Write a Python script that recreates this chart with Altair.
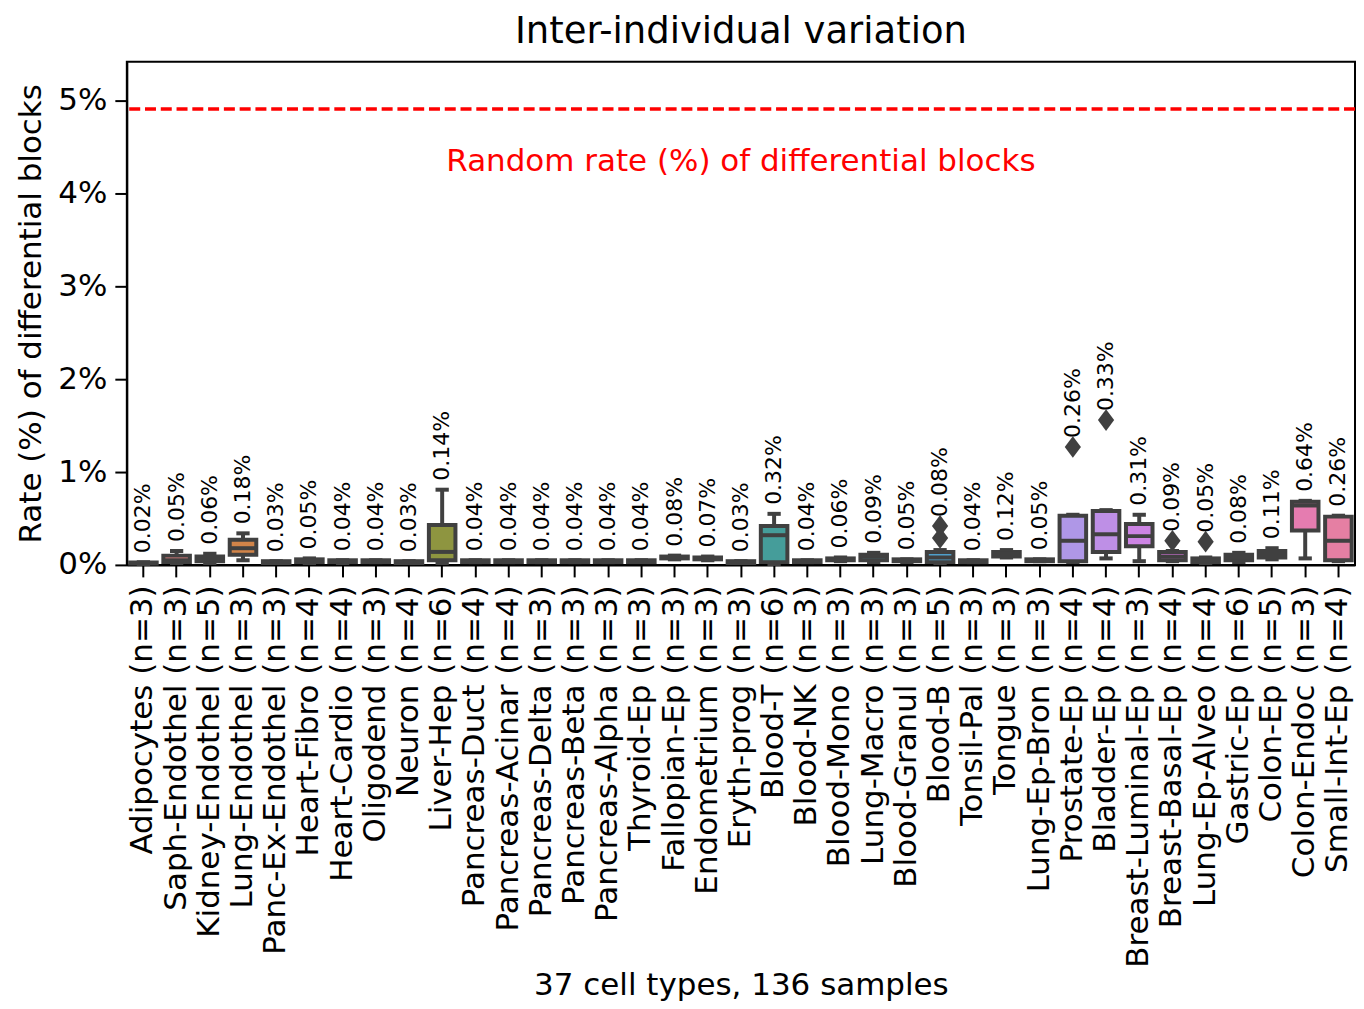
import math
import colorsys
import altair as alt
import pandas as pd

# ---------------- data ----------------
names = ["Adipocytes", "Saph-Endothel", "Kidney-Endothel", "Lung-Endothel", "Panc-Ex-Endothel",
         "Heart-Fibro", "Heart-Cardio", "Oligodend", "Neuron", "Liver-Hep", "Pancreas-Duct",
         "Pancreas-Acinar", "Pancreas-Delta", "Pancreas-Beta", "Pancreas-Alpha", "Thyroid-Ep",
         "Fallopian-Ep", "Endometrium", "Eryth-prog", "Blood-T", "Blood-NK", "Blood-Mono",
         "Lung-Macro", "Blood-Granul", "Blood-B", "Tonsil-Pal", "Tongue", "Lung-Ep-Bron",
         "Prostate-Ep", "Bladder-Ep", "Breast-Luminal-Ep", "Breast-Basal-Ep", "Lung-Ep-Alveo",
         "Gastric-Ep", "Colon-Ep", "Colon-Endoc", "Small-Int-Ep"]
n_samples = [3, 3, 5, 3, 3, 4, 4, 3, 4, 6, 4, 4, 3, 3, 3, 3, 3, 3, 3, 6, 3, 3, 3, 3, 5, 3, 3, 3,
             4, 4, 3, 4, 4, 6, 5, 3, 4]
medians = [0.02, 0.05, 0.06, 0.18, 0.03, 0.05, 0.04, 0.04, 0.03, 0.14, 0.04, 0.04, 0.04, 0.04,
           0.04, 0.04, 0.08, 0.07, 0.03, 0.32, 0.04, 0.06, 0.09, 0.05, 0.08, 0.04, 0.12, 0.05,
           0.26, 0.33, 0.31, 0.09, 0.05, 0.08, 0.11, 0.64, 0.26]
q1 = [0.015, 0.03, 0.04, 0.11, 0.02, 0.03, 0.03, 0.03, 0.02, 0.05, 0.03, 0.03, 0.03, 0.03,
      0.03, 0.03, 0.07, 0.06, 0.02, 0.03, 0.03, 0.05, 0.05, 0.04, 0.03, 0.03, 0.09, 0.04,
      0.04, 0.14, 0.20, 0.05, 0.03, 0.05, 0.08, 0.37, 0.05]
q3 = [0.025, 0.10, 0.09, 0.27, 0.04, 0.06, 0.05, 0.05, 0.04, 0.43, 0.05, 0.05, 0.05, 0.05,
      0.05, 0.05, 0.09, 0.08, 0.04, 0.42, 0.05, 0.07, 0.11, 0.06, 0.14, 0.05, 0.14, 0.06,
      0.53, 0.58, 0.44, 0.14, 0.07, 0.11, 0.15, 0.68, 0.52]
whisker_lo = [0.01, 0.02, 0.02, 0.05, 0.02, 0.02, 0.02, 0.03, 0.02, 0.02, 0.03, 0.03, 0.03, 0.03,
              0.03, 0.03, 0.06, 0.05, 0.02, 0.01, 0.03, 0.04, 0.03, 0.03, 0.02, 0.03, 0.08, 0.04,
              0.03, 0.07, 0.04, 0.04, 0.02, 0.03, 0.06, 0.07, 0.04]
whisker_hi = [0.03, 0.15, 0.12, 0.34, 0.04, 0.07, 0.05, 0.05, 0.04, 0.81, 0.05, 0.05, 0.05, 0.05,
              0.05, 0.05, 0.10, 0.09, 0.04, 0.55, 0.05, 0.08, 0.13, 0.06, 0.16, 0.05, 0.16, 0.06,
              0.54, 0.59, 0.54, 0.15, 0.08, 0.13, 0.18, 0.69, 0.53]
outlier_cat = ["Blood-B", "Blood-B", "Prostate-Ep", "Bladder-Ep", "Breast-Basal-Ep", "Lung-Ep-Alveo"]
outlier_val = [0.42, 0.29, 1.27, 1.56, 0.26, 0.25]
random_rate = 4.91
random_label = "Random rate (%) of differential blocks"
random_label_y = 4.34

labels = [f"{nm} (n={k})" for nm, k in zip(names, n_samples)]


# ---------------- seaborn-like husl palette ----------------
_M = [[3.2406, -1.5372, -0.4986], [-0.9689, 1.8758, 0.0415], [0.0557, -0.2040, 1.0570]]
_refU, _refV = 0.19784, 0.46834
_lab_e, _lab_k = 0.008856, 903.3


def _max_chroma(L, H):
    hrad = math.radians(H)
    sinH, cosH = math.sin(hrad), math.cos(hrad)
    sub1 = (L + 16) ** 3 / 1560896.0
    sub2 = sub1 if sub1 > _lab_e else L / _lab_k
    result = float("inf")
    for m1, m2, m3 in _M:
        top = (0.99915 * m1 + 1.05122 * m2 + 1.14460 * m3) * sub2
        rbottom = 0.86330 * m3 - 0.17266 * m2
        lbottom = 0.12949 * m3 - 0.38848 * m1
        bottom = (rbottom * sinH + lbottom * cosH) * sub2
        for t in (0.0, 1.0):
            C = L * (top - 1.05122 * t) / (bottom + 0.17266 * sinH * t)
            if 0 < C < result:
                result = C
    return result


def _f_inv(t):
    return t ** 3 if t ** 3 > _lab_e else (116 * t - 16) / _lab_k


def _from_linear(c):
    return 12.92 * c if c <= 0.0031308 else 1.055 * c ** (1 / 2.4) - 0.055


def husl_to_rgb(h, s, l):
    C = _max_chroma(l, h) / 100.0 * s
    hr = math.radians(h)
    U, V = math.cos(hr) * C, math.sin(hr) * C
    varY = _f_inv((l + 16) / 116.0)
    varU = U / (13 * l) + _refU
    varV = V / (13 * l) + _refV
    Y = varY
    X = 0 - (9 * Y * varU) / ((varU - 4) * varV - varU * varV)
    Z = (9 * Y - 15 * varV * Y - varV * X) / (3 * varV)
    rgb = [_from_linear(r[0] * X + r[1] * Y + r[2] * Z) for r in _M]
    return [min(max(c, 0.0), 1.0) for c in rgb]


def husl_palette(n, h=0.01, s=0.9, l=0.65):
    out = []
    for i in range(n):
        hue = ((i / n) + h) % 1 * 359
        out.append(husl_to_rgb(hue, s * 99, l * 99))
    return out


def desaturate(rgb, prop):
    hh, ll, ss = colorsys.rgb_to_hls(*rgb)
    return colorsys.hls_to_rgb(hh, ll, ss * prop)


def to_hex(rgb):
    return "#%02x%02x%02x" % tuple(int(round(c * 255)) for c in rgb)


pal = [desaturate(c, 0.75) for c in husl_palette(len(labels))]
colors = [to_hex(c) for c in pal]
lum = min(colorsys.rgb_to_hls(*c)[1] for c in pal) * 0.6
gray = to_hex((lum, lum, lum))

# ---------------- tables ----------------
df = pd.DataFrame({
    "label": labels, "median": medians, "q1": q1, "q3": q3,
    "lo": whisker_lo, "hi": whisker_hi,
})
top_vals = {}
for c, v in zip(outlier_cat, outlier_val):
    top_vals[c] = max(top_vals.get(c, 0), v)
df["top"] = [max(h, top_vals.get(nm, 0)) for nm, h in zip(names, whisker_hi)]
df["text"] = [f"{m:.2f}%" for m in medians]

name_to_label = dict(zip(names, labels))
df_out = pd.DataFrame({"label": [name_to_label[c] for c in outlier_cat], "val": outlier_val})
df_ref = pd.DataFrame({"rate": [random_rate], "ty": [random_label_y], "txt": [random_label]})

W, H = 1230, 504
band = W / len(labels)
box_w = band * 0.8

FONT = "DejaVu Sans"
FS = 31

x_axis = alt.Axis(title="37 cell types, 136 samples", labelAngle=270, labelFontSize=FS,
                  titleFontSize=FS, titleFontWeight="normal", labelColor="black",
                  titleColor="black", tickSize=12, tickWidth=2, tickColor="black",
                  domainColor="black", domainWidth=2, labelPadding=8,
                  titleY=430, titleBaseline="alphabetic",
                  labelOverlap=False, labelLimit=600)
x_enc = alt.X("label:N", sort=labels,
              scale=alt.Scale(domain=labels, paddingInner=0, paddingOuter=0), axis=x_axis)
y_scale = alt.Scale(domain=[0, 5.42], nice=False, zero=False)
y_axis = alt.Axis(title="Rate (%) of differential blocks", values=[0, 1, 2, 3, 4, 5],
                  labelExpr="datum.value + '%'", grid=False, labelFontSize=FS, titleFontSize=FS,
                  titleFontWeight="normal", labelColor="black", titleColor="black",
                  tickSize=12, tickWidth=2, tickColor="black", domainColor="black",
                  domainWidth=2, labelPadding=8, titlePadding=10)

base = alt.Chart(df).encode(x=x_enc)

whisk = base.mark_rule(color=gray, strokeWidth=4).encode(
    y=alt.Y("lo:Q", scale=y_scale, axis=y_axis), y2="hi:Q")
cap_lo = base.mark_tick(color=gray, thickness=4, size=box_w / 2, opacity=1).encode(y=alt.Y("lo:Q", scale=y_scale))
cap_hi = base.mark_tick(color=gray, thickness=4, size=box_w / 2, opacity=1).encode(y=alt.Y("hi:Q", scale=y_scale))
boxes = base.mark_bar(size=box_w, stroke=gray, strokeWidth=4, opacity=1).encode(
    y=alt.Y("q1:Q", scale=y_scale), y2="q3:Q",
    color=alt.Color("label:N", scale=alt.Scale(domain=labels, range=colors), legend=None))
med = base.mark_tick(color=gray, thickness=4, size=box_w, opacity=1).encode(y=alt.Y("median:Q", scale=y_scale))
vals = base.mark_text(angle=270, align="left", baseline="middle", dx=9, fontSize=22,
                      color="black").encode(y=alt.Y("top:Q", scale=y_scale), text="text:N")

diamond = "M0,-1L0.75,0L0,1L-0.75,0Z"
fliers = alt.Chart(df_out).mark_point(shape=diamond, size=470, filled=True, color=gray,
                                      opacity=1, strokeWidth=0).encode(
    x=alt.X("label:N", sort=labels, scale=alt.Scale(domain=labels), axis=x_axis),
    y=alt.Y("val:Q", scale=y_scale))

rand_line = alt.Chart(df_ref).mark_rule(color="#ff0000", strokeWidth=3.5, strokeDash=[11, 4.8]).encode(
    y=alt.Y("rate:Q", scale=y_scale))
rand_text = alt.Chart(df_ref).mark_text(color="#ff0000", fontSize=FS, baseline="middle",
                                        align="center").encode(
    x=alt.value(W / 2), y=alt.Y("ty:Q", scale=y_scale), text="txt:N")

chart = alt.layer(whisk, cap_lo, cap_hi, boxes, med, fliers, vals, rand_line, rand_text).properties(
    width=W, height=H,
    title=alt.TitleParams("Inter-individual variation", fontSize=37, fontWeight="normal",
                          color="black", anchor="middle", offset=11, font=FONT),
    padding={"left": 7, "right": -1, "top": 4, "bottom": 0},
).configure(font=FONT).configure_view(stroke="black", strokeWidth=2)

chart.save("out.html", embed_options={"renderer": "svg", "actions": False})
